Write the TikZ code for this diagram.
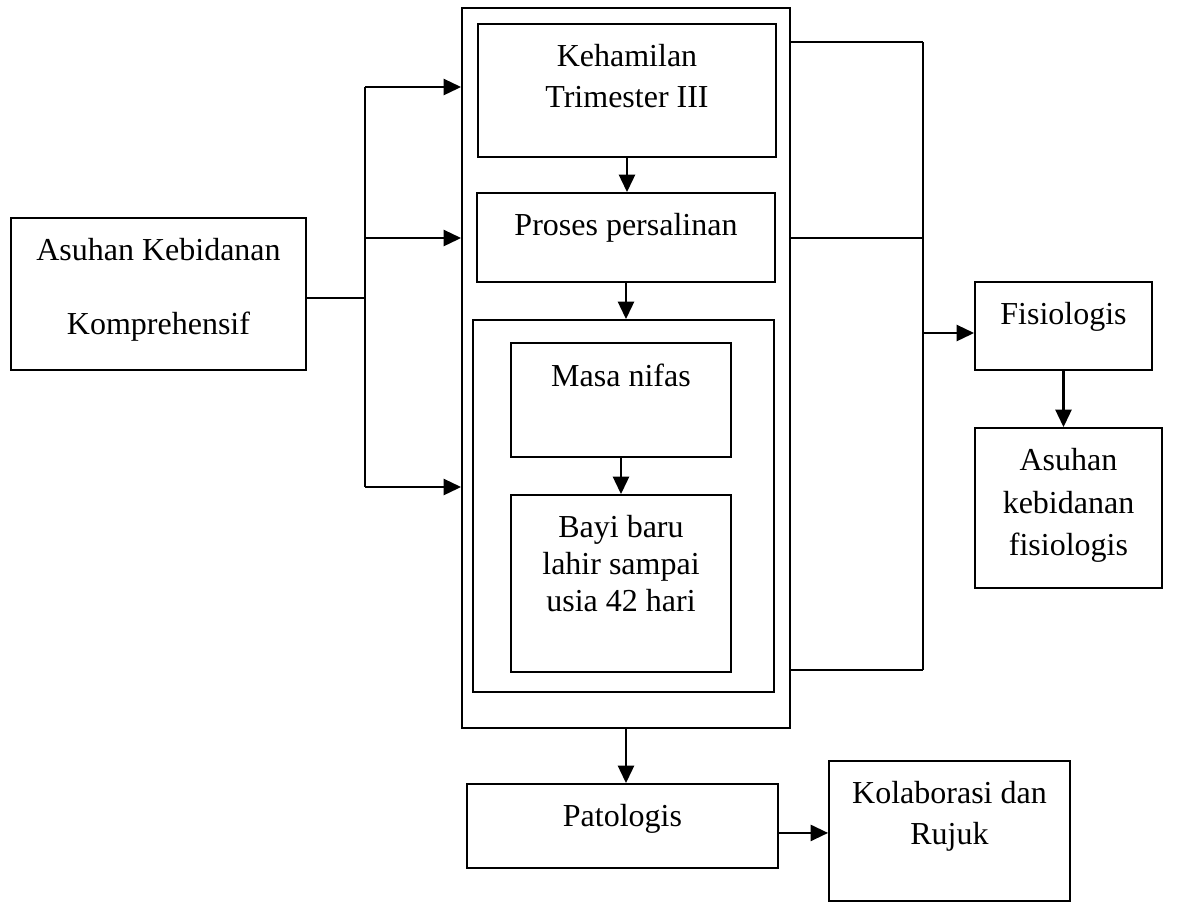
\documentclass[tikz,border=0pt]{standalone}
\usepackage{fontspec}
\setmainfont{Liberation Serif}
\usetikzlibrary{arrows.meta}

\begin{document}
\begin{tikzpicture}[
  x=0.375pt, y=-0.375pt,
  box/.style={rectangle, draw=black, line width=0.65pt, inner sep=0pt},
  sz/.style 2 args={minimum width=#1*0.375pt, minimum height=#2*0.375pt},
  txt/.style={anchor=north, yshift=-7.8pt, inner sep=0pt, align=center,
              font=\fontsize{12}{15.4}\selectfont},
  line/.style={line width=0.65pt},
  arrow/.style={-{Triangle[length=6.6pt, width=6pt]}, line width=1.05pt}
]
\useasboundingbox (0,0) rectangle (1183,902);
% left
\node[box, sz={295}{152}, label={[txt, font=\fontsize{12}{27.75}\selectfont]north:Asuhan Kebidanan\\Komprehensif}] (komp) at (158.5,294) {};
% middle
\node[box, sz={328}{720}] (outer) at (626,368) {};
\node[box, sz={298}{133}, label={[txt]north:Kehamilan\\Trimester III}] (hamil) at (627,90.5) {};
\node[box, sz={298}{89}, label={[txt]north:Proses persalinan}] (proses) at (626,237.5) {};
\node[box, sz={301}{372}] (inner) at (623.5,506) {};
\node[box, sz={220}{114}, label={[txt]north:Masa nifas}] (nifas) at (621,400) {};
\node[box, sz={220}{177}, label={[txt, font=\fontsize{12}{13.9}\selectfont]north:Bayi baru\\lahir sampai\\usia 42 hari}] (bayi) at (621,583.5) {};
% right
\node[box, sz={177}{88}, label={[txt]north:Fisiologis}] (fis) at (1063.5,326) {};
\node[box, sz={187}{160}, label={[txt, font=\fontsize{12}{15.9}\selectfont]north:Asuhan\\kebidanan\\fisiologis}] (asfis) at (1068.5,508) {};
% bottom
\node[box, sz={311}{84}, label={[txt]north:Patologis}] (pato) at (622.5,826) {};
\node[box, sz={241}{140}, label={[txt]north:Kolaborasi dan\\Rujuk}] (kolab) at (949.5,831) {};

\coordinate (jl) at (365,298);
\coordinate (lt) at (365,87);
\coordinate (lm) at (365,238);
\coordinate (lb) at (365,487);
\coordinate (rt) at (923,42);
\coordinate (rm) at (923,238);
\coordinate (rb) at (923,670);
\coordinate (rf) at (923,333);

\draw[line] (komp.east |- jl) -- (jl);
\draw[line, line width=0.75pt] (lt) -- (lb);
\draw[arrow] (lt) -- (lt -| outer.west);
\draw[arrow] (lm) -- (lm -| outer.west);
\draw[arrow] (lb) -- (lb -| outer.west);

\draw[line] (rt -| outer.east) -- (rt);
\draw[line] (rm -| outer.east) -- (rm);
\draw[line] (rb -| outer.east) -- (rb);
\draw[line] (rt) -- (rb);
\draw[arrow] (rf) -- (rf -| fis.west);

\draw[arrow] (hamil.south) -- (hamil.south |- proses.north);
\draw[arrow] (proses.south) -- (proses.south |- inner.north);
\draw[arrow] (nifas.south) -- (nifas.south |- bayi.north);
\draw[arrow] (outer.south) -- (outer.south |- pato.north);
\draw[arrow] (fis.south) -- (fis.south |- asfis.north);
\draw[arrow] ([yshift=-2.6pt]pato.east) -- ([yshift=-2.6pt]pato.east -| kolab.west);
\end{tikzpicture}
\end{document}
